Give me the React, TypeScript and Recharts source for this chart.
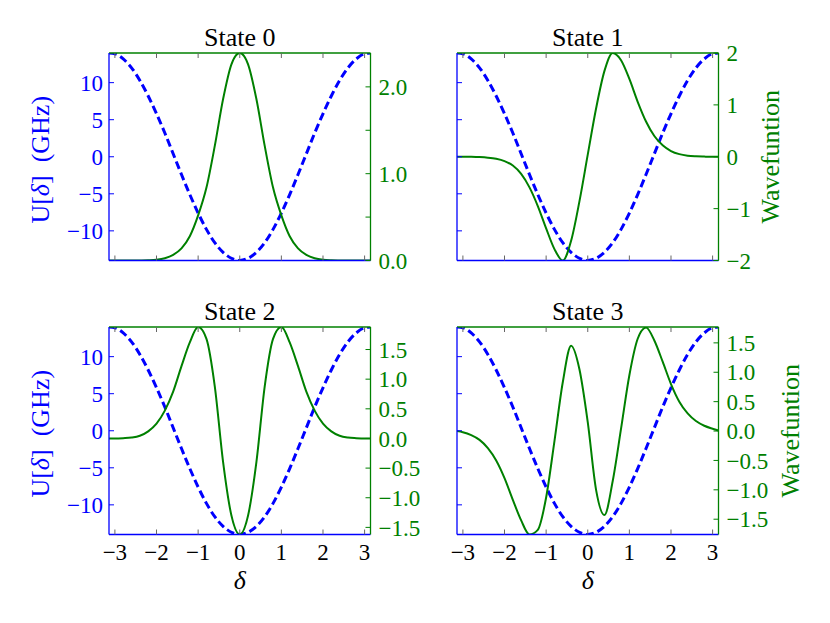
import React from "react";
import { ComposedChart, Line, XAxis, YAxis, Label } from "recharts";

// phase difference grid (rad)
const delta = [
  -3.1416, -3.0, -2.8, -2.6, -2.4, -2.2, -2.0, -1.8, -1.6, -1.4, -1.2, -1.0, -0.8, -0.6, -0.4, -0.2, 0,
  0.2, 0.4, 0.6, 0.8, 1.0, 1.2, 1.4, 1.6, 1.8, 2.0, 2.2, 2.4, 2.6, 2.8, 3.0, 3.1416,
];

// potential U[δ] in GHz
const potential = [
  14.0, 13.9, 13.2, 12.0, 10.3, 8.2, 5.8, 3.2, 0.4, -2.4, -5.1, -7.6, -9.8, -11.6, -12.9, -13.7, -14.0,
  -13.7, -12.9, -11.6, -9.8, -7.6, -5.1, -2.4, 0.4, 3.2, 5.8, 8.2, 10.3, 12.0, 13.2, 13.9, 14.0,
];

const state0 = [
  0, 0, 0, 0, 0.001, 0.003, 0.009, 0.026, 0.065, 0.14, 0.28, 0.52, 0.84, 1.32, 1.86, 2.26, 2.39,
  2.26, 1.86, 1.32, 0.84, 0.52, 0.28, 0.14, 0.065, 0.026, 0.009, 0.003, 0.001, 0, 0, 0, 0,
];

const state1 = [
  0, 0, -0.002, -0.007, -0.018, -0.04, -0.085, -0.17, -0.33, -0.59, -0.95, -1.38, -1.78, -2.0, -1.62, -0.86, 0.04,
  0.93, 1.65, 2.0, 1.86, 1.5, 1.06, 0.68, 0.4, 0.22, 0.11, 0.05, 0.02, 0.008, 0.003, 0, 0,
];

const state2 = [
  0, 0, 0.005, 0.015, 0.045, 0.12, 0.25, 0.47, 0.79, 1.22, 1.62, 1.88, 1.68, 0.88, -0.4, -1.3, -1.62,
  -1.3, -0.4, 0.88, 1.68, 1.88, 1.62, 1.22, 0.79, 0.47, 0.25, 0.12, 0.045, 0.015, 0.005, 0, 0,
];

const state3 = [
  0, -0.02, -0.07, -0.15, -0.29, -0.5, -0.8, -1.17, -1.52, -1.76, -1.68, -1.13, -0.17, 0.83, 1.45, 1.05, 0.15,
  -1.0, -1.43, -0.85, 0.04, 0.95, 1.57, 1.76, 1.54, 1.18, 0.8, 0.5, 0.3, 0.17, 0.09, 0.04, 0.01,
];

const xTicks = [-3, -2, -1, 0, 1, 2, 3];
const uTicks = [-10, -5, 0, 5, 10];
const psiTicks0 = [0, 0.5, 1, 1.5, 2];
const psiTicks1 = [-2, -1, 0, 1, 2];
const psiTicks23 = [-1.5, -1, -0.5, 0, 0.5, 1, 1.5];

const FONT = '"Liberation Serif", "DejaVu Serif", serif';
const BLUE = "#0000ff";
const GREEN = "#008000";

const PLOT_W = 261.5;
const PLOT_H = 207.5;
const LEFT_W = 105;
const RIGHT_W = 92;
const TOP_H = 45;

const fmtMinus = (s: string) => s.replace("-", "\u2212");
const intFmt = (v: number) => fmtMinus(String(v));
const oneDec = (v: number) => fmtMinus(v.toFixed(1));
const state0Fmt = (v: number) => (Number.isInteger(v) ? v.toFixed(1) : "");
const blank = () => "";

type PanelProps = {
  title: string;
  psi: number[];
  psiDomain: [number, number];
  psiTicks: number[];
  psiFmt: (v: number) => string;
  left: number;
  top: number;
  uLabels: boolean;
  xLabels: boolean;
  waveLabelX?: number;
};

function Panel(p: PanelProps) {
  const rows = delta.map((d, i) => ({ d, u: potential[i], psi: p.psi[i] }));
  const bottomH = p.xLabels ? 70 : 12;
  const width = LEFT_W + PLOT_W + RIGHT_W;
  const height = TOP_H + PLOT_H + bottomH;

  return (
    <div style={{ position: "absolute", left: p.left - LEFT_W, top: p.top - TOP_H }}>
      <ComposedChart width={width} height={height} data={rows} margin={{ top: 0, right: 0, bottom: 0, left: 0 }}>
        <XAxis
          xAxisId="t"
          orientation="top"
          type="number"
          dataKey="d"
          domain={[-Math.PI, Math.PI]}
          allowDataOverflow
          ticks={xTicks}
          interval={0}
          height={TOP_H}
          tickSize={-5}
          tickFormatter={blank}
          tickLine={{ stroke: "#666" }}
          axisLine={{ stroke: GREEN, strokeWidth: 1.3 }}
        >
          <Label
            content={(lp: any) => {
              const vb = lp.viewBox;
              return (
                <text x={vb.x + vb.width / 2} y={vb.y + vb.height - 7} textAnchor="middle" fontFamily={FONT} fontSize={26} fill="#000">
                  {p.title}
                </text>
              );
            }}
          />
        </XAxis>
        <XAxis
          xAxisId="b"
          type="number"
          dataKey="d"
          domain={[-Math.PI, Math.PI]}
          allowDataOverflow
          ticks={xTicks}
          interval={0}
          height={bottomH}
          tickSize={-5}
          tickMargin={14}
          tickFormatter={p.xLabels ? intFmt : blank}
          tick={{ fontFamily: FONT, fontSize: 23, fill: "#000" }}
          tickLine={{ stroke: "#666" }}
          axisLine={{ stroke: BLUE, strokeWidth: 1.3 }}
        >
          {p.xLabels && (
            <Label
              content={(lp: any) => {
                const vb = lp.viewBox;
                return (
                  <text x={vb.x + vb.width / 2} y={vb.y + 54} textAnchor="middle" fontFamily={FONT} fontStyle="italic" fontSize={26} fill="#000">
                    δ
                  </text>
                );
              }}
            />
          )}
        </XAxis>
        <YAxis
          yAxisId="u"
          orientation="left"
          type="number"
          domain={[-14, 14]}
          allowDataOverflow
          ticks={uTicks}
          interval={0}
          width={LEFT_W}
          tickSize={-5}
          tickMargin={11}
          tickFormatter={p.uLabels ? intFmt : blank}
          tick={{ fontFamily: FONT, fontSize: 23, fill: BLUE }}
          tickLine={{ stroke: BLUE }}
          axisLine={{ stroke: BLUE, strokeWidth: 1.3 }}
        >
          {p.uLabels && (
            <Label
              content={(lp: any) => {
                const vb = lp.viewBox;
                const cx = vb.x + vb.width - 60;
                const cy = vb.y + vb.height / 2 + 3;
                return (
                  <text x={cx} y={cy} transform={`rotate(-90 ${cx} ${cy})`} textAnchor="middle" fontFamily={FONT} fontSize={26} fill={BLUE}>
                    U[<tspan fontStyle="italic">δ</tspan>]{"\u00a0\u00a0"}(GHz)
                  </text>
                );
              }}
            />
          )}
        </YAxis>
        <YAxis
          yAxisId="p"
          orientation="right"
          type="number"
          domain={p.psiDomain}
          allowDataOverflow
          ticks={p.psiTicks}
          interval={0}
          width={RIGHT_W}
          tickSize={-5}
          tickMargin={13}
          tickFormatter={p.psiFmt}
          tick={{ fontFamily: FONT, fontSize: 23, fill: GREEN, textAnchor: "start" }}
          tickLine={{ stroke: GREEN }}
          axisLine={{ stroke: GREEN, strokeWidth: 1.3 }}
        >
          {p.waveLabelX !== undefined && (
            <Label
              content={(lp: any) => {
                const vb = lp.viewBox;
                const cx = vb.x + (p.waveLabelX as number);
                const cy = vb.y + vb.height / 2;
                return (
                  <text x={cx} y={cy} transform={`rotate(-90 ${cx} ${cy})`} textAnchor="middle" fontFamily={FONT} fontSize={26} fill={GREEN}>
                    Wavefuntion
                  </text>
                );
              }}
            />
          )}
        </YAxis>
        <Line
          xAxisId="b"
          yAxisId="u"
          type="monotone"
          dataKey="u"
          stroke={BLUE}
          strokeWidth={3}
          strokeDasharray="8 4"
          dot={false}
          activeDot={false}
          isAnimationActive={false}
        />
        <Line
          xAxisId="b"
          yAxisId="p"
          type="monotone"
          dataKey="psi"
          stroke={GREEN}
          strokeWidth={2}
          dot={false}
          activeDot={false}
          isAnimationActive={false}
        />
      </ComposedChart>
    </div>
  );
}

export default function App() {
  return (
    <div style={{ position: "absolute", left: 0, top: 0, width: 830, height: 623, overflow: "hidden", background: "#fff" }}>
      <Panel title="State 0" psi={state0} psiDomain={[0, 2.39]} psiTicks={psiTicks0} psiFmt={state0Fmt} left={109} top={53} uLabels xLabels={false} />
      <Panel title="State 1" psi={state1} psiDomain={[-2, 2]} psiTicks={psiTicks1} psiFmt={intFmt} left={456.7} top={53} uLabels={false} xLabels={false} waveLabelX={60} />
      <Panel title="State 2" psi={state2} psiDomain={[-1.62, 1.88]} psiTicks={psiTicks23} psiFmt={oneDec} left={109} top={326.7} uLabels xLabels />
      <Panel title="State 3" psi={state3} psiDomain={[-1.76, 1.77]} psiTicks={psiTicks23} psiFmt={oneDec} left={456.7} top={326.7} uLabels={false} xLabels waveLabelX={80} />
    </div>
  );
}
